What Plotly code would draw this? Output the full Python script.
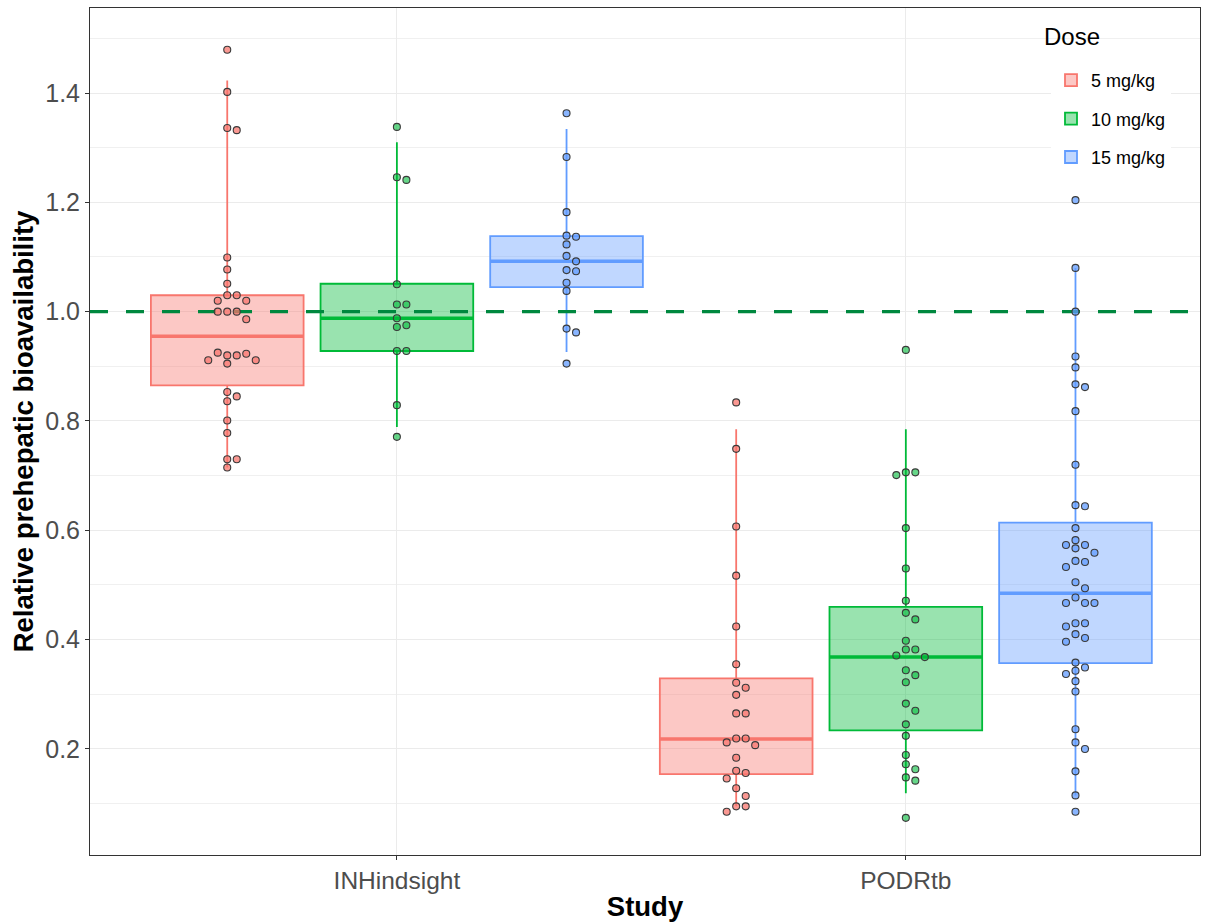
import plotly.graph_objects as go

# ---------------- data ----------------
studies = ["INHindsight", "PODRtb"]
doses = ["5 mg/kg", "10 mg/kg", "15 mg/kg"]
colors = ["#F8766D", "#00BA38", "#619CFF"]
fills = ["rgba(248,118,109,0.4)", "rgba(0,186,56,0.4)", "rgba(97,156,255,0.4)"]
pt_fills = ["rgba(248,118,109,0.75)", "rgba(0,186,56,0.6)", "rgba(97,156,255,0.75)"]

inh_5 = [1.479, 1.402, 1.336, 1.332, 1.099, 1.077, 1.051, 1.030, 1.030, 1.020, 1.020,
         1.000, 1.000, 1.000, 0.986, 0.920, 0.920, 0.925, 0.923, 0.905, 0.911, 0.911,
         0.853, 0.845, 0.836, 0.801, 0.778, 0.730, 0.730, 0.715]
inh_10 = [1.338, 1.246, 1.241, 1.050, 1.013, 1.013, 0.988, 0.975, 0.972, 0.928, 0.928,
          0.829, 0.771]
inh_15 = [1.363, 1.283, 1.182, 1.139, 1.137, 1.123, 1.102, 1.092, 1.076, 1.074, 1.053,
          1.038, 0.969, 0.962, 0.905]
pod_5 = [0.834, 0.749, 0.607, 0.517, 0.424, 0.355, 0.321, 0.312, 0.299, 0.265, 0.265,
         0.219, 0.219, 0.212, 0.207, 0.184, 0.160, 0.156, 0.146, 0.128, 0.114, 0.095,
         0.095, 0.085]
pod_10 = [0.930, 0.706, 0.706, 0.701, 0.604, 0.530, 0.471, 0.449, 0.437, 0.398, 0.382,
          0.382, 0.371, 0.368, 0.344, 0.335, 0.322, 0.283, 0.270, 0.245, 0.224, 0.189,
          0.172, 0.163, 0.148, 0.142, 0.074]
pod_15 = [1.204, 1.080, 1.000, 0.918, 0.898, 0.867, 0.862, 0.818, 0.720, 0.646, 0.644,
          0.604, 0.582, 0.573, 0.573, 0.567, 0.559, 0.544, 0.542, 0.533, 0.505, 0.494,
          0.477, 0.467, 0.467, 0.467, 0.430, 0.430, 0.424, 0.410, 0.403, 0.396, 0.358,
          0.349, 0.343, 0.337, 0.324, 0.305, 0.236, 0.212, 0.200, 0.159, 0.115, 0.085]
points = [[inh_5, pod_5], [inh_10, pod_10], [inh_15, pod_15]]

# box statistics per dose: [INHindsight, PODRtb]
q1 = [[0.865, 0.154], [0.928, 0.234], [1.045, 0.357]]
median = [[0.955, 0.218], [0.988, 0.368], [1.092, 0.485]]
q3 = [[1.030, 0.329], [1.051, 0.460], [1.138, 0.614]]
lower = [[0.715, 0.095], [0.789, 0.119], [0.926, 0.115]]
upper = [[1.423, 0.785], [1.310, 0.785], [1.334, 1.080]]

reference_line = 1.0
y_ticks = [0.2, 0.4, 0.6, 0.8, 1.0, 1.2, 1.4]

# ---------------- layout constants ----------------
W, H = 1213, 922
ML, MR, MT, MB = 90, 13, 8, 67
XR = [0.397, 2.578]
YR = [0.006, 1.5555]
dodge = 1 / 3
box_w = 0.3
px_x = (W - ML - MR) / (XR[1] - XR[0])
px_y = (H - MT - MB) / (YR[1] - YR[0])


def swarm(vals, step_px=9.5, min_d=8.0):
    placed, offs = [], []
    cands = [0]
    for i in range(1, 8):
        cands += [i, -i]
    for v in vals:
        yp = v * px_y
        xp = 0
        for c in cands:
            xp = c * step_px
            if all((xp - a) ** 2 + (yp - b) ** 2 >= min_d ** 2 for a, b in placed):
                break
        placed.append((xp, yp))
        offs.append(xp / px_x)
    return offs


fig = go.Figure()
font = "Liberation Sans, Arial, sans-serif"

for d in range(3):
    pos = [s + 1 + (d - 1) * dodge for s in range(len(studies))]
    fig.add_trace(go.Box(
        x=pos, q1=q1[d], median=median[d], q3=q3[d],
        lowerfence=lower[d], upperfence=upper[d],
        width=box_w, whiskerwidth=0, fillcolor=fills[d],
        line=dict(color=colors[d], width=1.8), boxpoints=False,
        name=doses[d], legendgroup=doses[d], hoverinfo="skip",
    ))
    mx, my = [], []
    for s in range(len(studies)):
        mx += [pos[s] - box_w / 2, pos[s] + box_w / 2, None]
        my += [median[d][s], median[d][s], None]
    fig.add_trace(go.Scatter(x=mx, y=my, mode="lines",
                             line=dict(color=colors[d], width=3.5),
                             showlegend=False, hoverinfo="skip"))

fig.add_trace(go.Scatter(x=XR, y=[reference_line, reference_line], mode="lines",
                         line=dict(color="#00883F", width=3.2, dash="18px,18px"),
                         showlegend=False, hoverinfo="skip"))

for d in range(3):
    px, py = [], []
    for s in range(len(studies)):
        center = s + 1 + (d - 1) * dodge
        offs = swarm(points[d][s])
        px += [center + o for o in offs]
        py += points[d][s]
    fig.add_trace(go.Scatter(
        x=px, y=py, mode="markers",
        marker=dict(size=7, color=pt_fills[d], line=dict(color="#3a3a3a", width=1.1)),
        showlegend=False, legendgroup=doses[d], hoverinfo="skip"))

fig.add_annotation(text="Dose", xref="paper", yref="paper",
                   x=(1042 - ML) / (W - ML - MR), y=(H - MB - 37) / (H - MT - MB),
                   xanchor="left", yanchor="middle", showarrow=False,
                   font=dict(size=24, color="black"))

fig.update_layout(
    width=W, height=H,
    margin=dict(l=ML, r=MR, t=MT, b=MB),
    paper_bgcolor="white", plot_bgcolor="white",
    boxmode="overlay",
    font=dict(family=font, color="#4D4D4D"),
    legend=dict(
        x=(1051 - ML) / (W - ML - MR), y=(H - MB - 62) / (H - MT - MB),
        xanchor="left", yanchor="top",
        bgcolor="white", tracegroupgap=12, traceorder="grouped",
        font=dict(size=18, color="black"),
    ),
    xaxis=dict(
        range=XR, tickmode="array", tickvals=[1, 2], ticktext=studies,
        showgrid=True, gridcolor="#EBEBEB", gridwidth=1.3, zeroline=False,
        showline=True, mirror=True, linecolor="#333333", linewidth=1,
        ticks="outside", ticklen=4, tickcolor="#333333",
        tickfont=dict(size=24.5, color="#4D4D4D"), automargin=False,
        title=dict(text="<b>Study</b>", font=dict(size=27.5, color="black"), standoff=3),
    ),
    yaxis=dict(
        range=YR, tickmode="array", tickvals=y_ticks, tickformat=".1f",
        showgrid=True, gridcolor="#EBEBEB", gridwidth=1.3, zeroline=False,
        minor=dict(tickvals=[0.1, 0.3, 0.5, 0.7, 0.9, 1.1, 1.3, 1.5], showgrid=True,
                   gridcolor="#F0F0F0", gridwidth=1, ticks=""),
        showline=True, mirror=True, linecolor="#333333", linewidth=1,
        ticks="outside", ticklen=4, tickcolor="#333333",
        tickfont=dict(size=25, color="#4D4D4D"), automargin=False,
        title=dict(text="<b>Relative prehepatic bioavailability</b>",
                   font=dict(size=27.5, color="black"), standoff=3),
    ),
)

fig.write_html("out.html")
